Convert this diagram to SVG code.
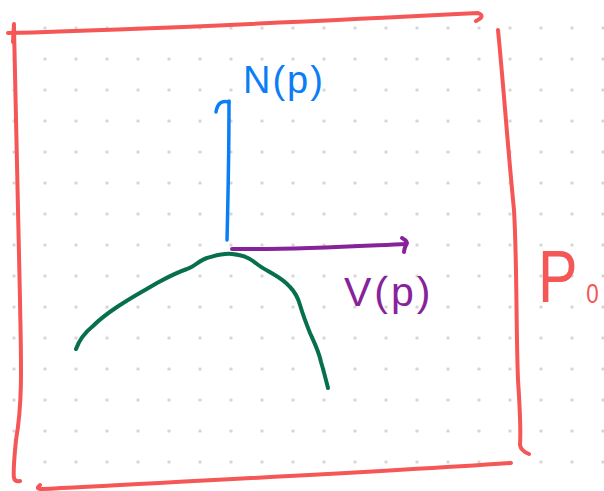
<svg xmlns="http://www.w3.org/2000/svg" width="604" height="491" viewBox="0 0 604 491">
  <defs>
    <pattern id="dots" patternUnits="userSpaceOnUse" x="-1.5" y="12.5" width="31" height="31">
      <circle cx="15.5" cy="15.5" r="1.6" fill="#cfcfcf"/>
    </pattern>
  </defs>
  <style>
    .s { fill: none; stroke-linecap: round; stroke-linejoin: round; }
    .red { stroke: #f55656; stroke-width: 4; }
    .blue { stroke: #0b7ef5; stroke-width: 3.5; }
    .purple { stroke: #87239a; stroke-width: 4; }
    .green { stroke: #06704e; stroke-width: 4; }
    .lbl { font-family: "Liberation Sans", Arial, sans-serif; }
  </style>
  <rect width="604" height="491" fill="#ffffff"/>
  <rect width="604" height="491" fill="url(#dots)"/>

  <g id="frame">
    <path class="s red" d="M8,33 C120,30 300,22 478,13 Q486,16 476,21"/>
    <path class="s red" d="M14,24 L13,42"/>
    <path class="s red" d="M14,28 C16,100 18,200 20,300 C21,360 23,400 16,440 C14,460 13,472 14,478 Q15,482 20,481"/>
    <path class="s red" d="M498,30 C503,80 508,150 514,210 C517,260 516,330 518,380 C520,410 521,430 520,445 Q521,451 529,454"/>
    <path class="s red" d="M40,485 Q35,489 42,489 C150,483 350,474 511,463"/>
  </g>

  <g id="surface">
    <path class="s green" d="M76,349 C80,338 88,330 93,326 C100,319 108,313 117,307 C130,298 145,290 157,283 C168,277 178,272 187,269 C195,266 200,260 207,258 C215,256 222,253 232,254 C242,255 248,257 253,261 C258,265 262,268 268,271 C276,276 283,279 290,287 C295,292 298,298 300,305 C303,315 306,323 310,333 C315,344 319,352 321,362 C324,372 326,380 328,388"/>
  </g>

  <g id="connectors">
    <g id="normal">
      <path class="s blue" d="M229,101 C229,150 228,200 227,240"/>
      <path class="s blue" d="M216,112 Q218,99 229,102"/>
    </g>
    <g id="tangent">
      <path class="s purple" d="M232,249 C300,250 360,246 406,244"/>
      <path class="s purple" d="M402,238 Q409,242 406,245 Q404,249 404,252"/>
    </g>
  </g>

  <g id="label-N">
    <text class="lbl" x="243" y="93" font-size="38" letter-spacing="2" fill="#0b7ef5">N(p)</text>
  </g>
  <g id="label-V">
    <text class="lbl" x="344" y="306" font-size="41" letter-spacing="3" fill="#87239a">V(p)</text>
  </g>
  <g id="label-P" transform="translate(538,302) scale(0.8,1)">
    <text class="lbl" x="0" y="0" fill="#f55656"><tspan font-size="74">P</tspan><tspan font-size="28" dx="11" dy="1">0</tspan></text>
  </g>
</svg>
